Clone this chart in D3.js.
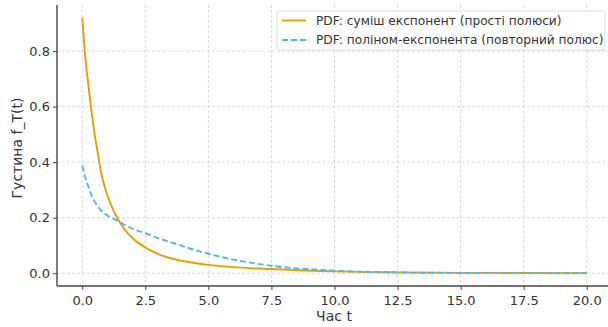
<!DOCTYPE html>
<html><head><meta charset="utf-8">
<script src="https://cdn.jsdelivr.net/npm/d3@7"></script>
<style>
body{margin:0;background:#fff;}
svg{display:block;font-family:"DejaVu Sans",sans-serif;}
</style></head><body>
<svg id="c" width="608" height="327"></svg>
<script>
const tValues = [0, 0.1, 0.25, 0.35, 0.5, 0.6, 0.75, 1.0, 1.25, 1.5, 1.75, 2.0, 2.5, 3.0, 3.5, 4.0, 5.0, 6.0, 7.5, 10, 12.5, 15, 17.5, 20];
const pdfMixture = [0.92, 0.80, 0.672, 0.596, 0.495, 0.442, 0.362, 0.280, 0.224, 0.182, 0.150, 0.126, 0.092, 0.070, 0.054, 0.044, 0.030, 0.022, 0.015, 0.0065, 0.003, 0.0013, 0.0006, 0.0003];
const pdfRepeated = [0.388, 0.352, 0.31, 0.285, 0.257, 0.243, 0.226, 0.208, 0.196, 0.184, 0.171, 0.160, 0.144, 0.127, 0.112, 0.097, 0.070, 0.049, 0.027, 0.009, 0.003, 0.001, 0.0003, 0.0001];
const xTicks = [0, 2.5, 5, 7.5, 10, 12.5, 15, 17.5, 20];
const yTicks = [0, 0.2, 0.4, 0.6, 0.8];
const seriesNames = ["PDF: суміш експонент (прості полюси)", "PDF: поліном-експонента (повторний полюс)"];
const xLabel = "Час t";
const yLabel = "Густина f_T(t)";

const svg = d3.select("#c");
const L = 57, R = 612, T = 5, B = 286;
const x = d3.scaleLinear().domain([-1, 21]).range([L, R]);
const y = d3.scaleLinear().domain([-0.046, 0.966]).range([B, T]);

const grid = svg.append("g");
grid.selectAll("line.vx").data(xTicks).join("line")
  .attr("x1", d => x(d)).attr("x2", d => x(d)).attr("y1", T).attr("y2", B)
  .attr("stroke", "#cfcfcf").attr("stroke-width", 0.8).attr("stroke-dasharray", "3,2");
grid.selectAll("line.hy").data(yTicks).join("line")
  .attr("y1", d => y(d)).attr("y2", d => y(d)).attr("x1", L).attr("x2", R)
  .attr("stroke", "#cfcfcf").attr("stroke-width", 0.8).attr("stroke-dasharray", "3,2");

const line1 = d3.line().x((d, i) => x(tValues[i])).y(d => y(d)).curve(d3.curveMonotoneX);
svg.append("path").datum(pdfMixture).attr("d", line1)
  .attr("fill", "none").attr("stroke", "#E69F00").attr("stroke-width", 1.9);
svg.append("path").datum(pdfRepeated).attr("d", line1)
  .attr("fill", "none").attr("stroke", "#56B4E9").attr("stroke-width", 1.9).attr("stroke-dasharray", "6,3");

const xAxis = svg.append("g").attr("transform", `translate(0,${B})`)
  .call(d3.axisBottom(x).tickValues(xTicks).tickFormat(d3.format(".1f")).tickSize(4).tickSizeOuter(0));
const yAxis = svg.append("g").attr("transform", `translate(${L},0)`)
  .call(d3.axisLeft(y).tickValues(yTicks).tickFormat(d3.format(".1f")).tickSize(4).tickSizeOuter(0));
[xAxis, yAxis].forEach(a => {
  a.select(".domain").attr("stroke", "#444").attr("stroke-width", 1.4);
  a.selectAll(".tick line").attr("stroke", "#444").attr("stroke-width", 1);
  a.selectAll(".tick text").attr("fill", "#333").attr("font-size", 13).attr("font-family", "DejaVu Sans");
});
xAxis.selectAll(".tick text").attr("dy", "0.95em");
yAxis.selectAll(".tick text").attr("x", -7);
xAxis.select(".domain").attr("d", `M${L},0H${R}`);
yAxis.select(".domain").attr("d", `M0,${T}V${B}`);

svg.append("text").attr("x", 334).attr("y", 321).attr("text-anchor", "middle")
  .attr("font-size", 14).attr("fill", "#333").text(xLabel);
svg.append("text").attr("transform", "translate(22,148) rotate(-90)").attr("text-anchor", "middle")
  .attr("font-size", 14).attr("fill", "#333").text(yLabel);

const lg = svg.append("g");
lg.append("rect").attr("x", 277).attr("y", 11).attr("width", 328).attr("height", 39).attr("rx", 2)
  .attr("fill", "#fff").attr("fill-opacity", 0.85).attr("stroke", "#d5d5d5").attr("stroke-width", 0.8);
const colors = ["#E69F00", "#56B4E9"];
const dashes = [null, "6,3"];
seriesNames.forEach((n, i) => {
  const yy = 20.5 + i * 19.5;
  lg.append("line").attr("x1", 282).attr("x2", 306).attr("y1", yy).attr("y2", yy)
    .attr("stroke", colors[i]).attr("stroke-width", 1.8).attr("stroke-dasharray", dashes[i]);
  lg.append("text").attr("x", 316).attr("y", yy).attr("dy", "0.35em").attr("font-size", 12.2)
    .attr("fill", "#333").text(n);
});
</script></body></html>
